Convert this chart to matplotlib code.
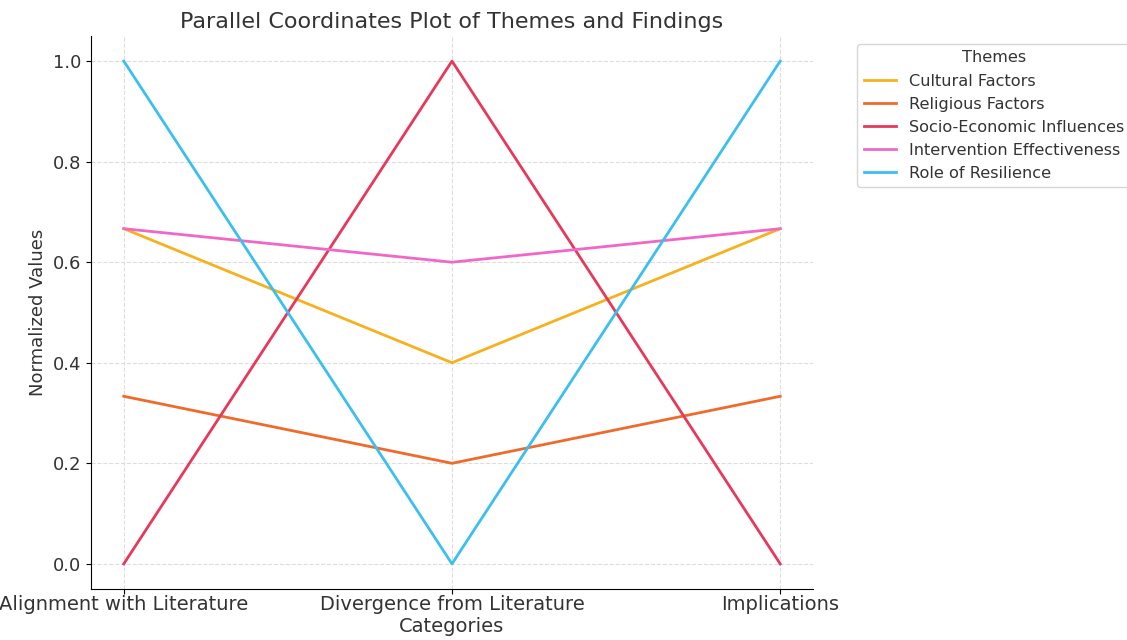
import matplotlib.pyplot as plt

categories = ["Alignment with Literature", "Divergence from Literature", "Implications"]
themes = ["Cultural Factors", "Religious Factors", "Socio-Economic Influences",
          "Intervention Effectiveness", "Role of Resilience"]
cultural = [0.6667, 0.4, 0.6667]
religious = [0.3333, 0.2, 0.3333]
socio_economic = [0.0, 1.0, 0.0]
intervention = [0.6667, 0.6, 0.6667]
resilience = [1.0, 0.0, 1.0]
colors = ["#f7b11e", "#ee6b2b", "#e8385a", "#ef68c8", "#3bbff0"]

series = [cultural, religious, socio_economic, intervention, resilience]

plt.rcParams['font.family'] = ['DejaVu Sans']
text_col = "#333333"

fig = plt.figure(figsize=(11.27, 6.4), dpi=100)
ax = fig.add_axes([0.0807, 0.0797, 0.6407, 0.8641])

x = list(range(len(categories)))
for name, vals, c in zip(themes, series, colors):
    ax.plot(x, vals, color=c, linewidth=2, label=name)

ax.set_xticks(x)
ax.set_xticklabels(categories, fontsize=14, color=text_col)
ax.tick_params(axis='x', pad=1)
ax.set_yticks([0.0, 0.2, 0.4, 0.6, 0.8, 1.0])
ax.tick_params(axis='y', labelsize=13, labelcolor=text_col)
ax.grid(True, linestyle='--', color='#dddddd', linewidth=0.8)
ax.set_axisbelow(True)
for s in ["top", "right"]:
    ax.spines[s].set_visible(False)

ax.set_title("Parallel Coordinates Plot of Themes and Findings", fontsize=16, color=text_col)
ax.set_xlabel("Categories", fontsize=14, color=text_col, labelpad=2)
ax.set_ylabel("Normalized Values", fontsize=13, color=text_col)

leg = ax.legend(title="Themes", bbox_to_anchor=(1.05, 1), loc="upper left", fontsize=11.6,
                title_fontsize=11.6)
for t in leg.get_texts():
    t.set_color(text_col)
leg.get_title().set_color(text_col)

fig.savefig("out.png", dpi=100)
